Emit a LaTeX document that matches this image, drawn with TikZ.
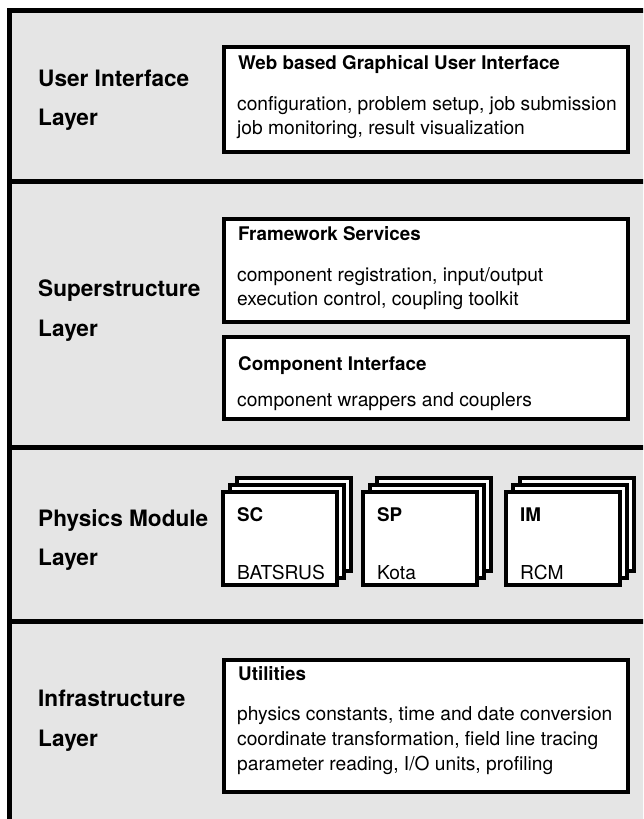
\documentclass[tikz,border=0pt]{standalone}
\usepackage{fontspec}
\setmainfont{TeX Gyre Heros}
\begin{document}
\begin{tikzpicture}[x=1pt,y=-1pt,
    frameline/.style={line width=5pt},
    boxline/.style={draw=black,fill=white,line width=4pt},
    layertext/.style={anchor=base west,inner sep=0pt,font=\fontsize{22.6}{27}\selectfont\bfseries},
    boxtitle/.style={anchor=base west,inner sep=0pt,font=\fontsize{18.8}{23}\selectfont\bfseries},
    boxtext/.style={anchor=base west,inner sep=0pt,font=\fontsize{19.2}{23}\selectfont}]
  \useasboundingbox (0,0) rectangle (643,819);
  \clip (0,0) rectangle (643,819);
  % layer background and separators
  \fill[gray!20] (9,10) rectangle (660,840);
  \draw[frameline] (9,840) -- (9,10) -- (660,10);
  \foreach \y in {181,447,621}
    \draw[frameline] (9,\y) -- (660,\y);
  % user interface layer
  \node[layertext] (uitop) at (38,86) {User Interface};
  \node[layertext] (uibot) at (38,125) {Layer};
  \draw[boxline] (224,47) rectangle (628,152);
  \node[boxtitle] (guititle) at (238,69) {Web based Graphical User Interface};
  \node[boxtext] (guione) at (237,110) {configuration, problem setup, job submission};
  \node[boxtext] (guitwo) at (237,134) {job monitoring, result visualization};
  % superstructure layer
  \node[layertext] (sstop) at (38,296) {Superstructure};
  \node[layertext] (ssbot) at (38,336) {Layer};
  \draw[boxline] (224,219) rectangle (628,322);
  \node[boxtitle] (fwtitle) at (238,240) {Framework Services};
  \node[boxtext] (fwone) at (237,281) {component registration, input/output};
  \node[boxtext] (fwtwo) at (237,305) {execution control, coupling toolkit};
  \draw[boxline] (224,337) rectangle (628,419);
  \node[boxtitle] (cititle) at (238,370) {Component Interface};
  \node[boxtext] (cione) at (237,406) {component wrappers and couplers};
  % physics module layer
  \node[layertext] (pmtop) at (38,526) {Physics Module};
  \node[layertext] (pmbot) at (38,565) {Layer};
  \foreach \x/\comp/\code [count=\i] in {223/SC/BATSRUS,363/SP/Kota,506/IM/RCM}{
    \draw[boxline] (\x+14,478) rectangle (\x+128,571);
    \draw[boxline] (\x+7,485) rectangle (\x+121,578);
    \draw[boxline] (\x,492) rectangle (\x+114,585);
    \node[boxtitle] (comp\i) at (\x+14,521) {\comp};
    \node[boxtext] (code\i) at (\x+14,579) {\code};
  }
  % infrastructure layer
  \node[layertext] (iftop) at (38,706) {Infrastructure};
  \node[layertext] (ifbot) at (38,746) {Layer};
  \draw[boxline] (224,660) rectangle (628,792);
  \node[boxtitle] (uttitle) at (238,680) {Utilities};
  \node[boxtext] (utone) at (237,720) {physics constants, time and date conversion};
  \node[boxtext] (uttwo) at (237,745) {coordinate transformation, field line tracing};
  \node[boxtext] (utthree) at (237,770) {parameter reading, I/O units, profiling};
\end{tikzpicture}
\end{document}
